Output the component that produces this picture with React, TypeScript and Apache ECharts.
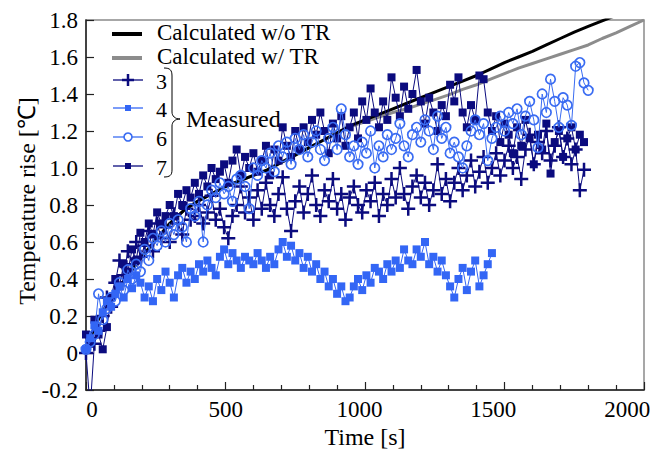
import React, { useEffect, useRef } from "react";
import * as echarts from "echarts";

// ---- data ----
const STEP = 15; // sampling interval of the measured series [s]

const measured3 = [
  0.0, -0.3, 0.05, 0.12, 0.2, 0.3, 0.25, 0.38, 0.5, 0.42, 0.55, 0.48, 0.6, 0.52, 0.58, 0.66, 0.55, 0.7, 0.62, 0.68,
  0.6, 0.75, 0.7, 0.64, 0.78, 0.72, 0.74, 0.8, 0.7, 0.76, 0.85, 0.72, 0.78, 0.68, 0.62, 0.74, 0.8, 0.9, 0.76, 0.84,
  0.72, 0.88, 0.78, 0.92, 0.8, 0.74, 0.86, 0.95, 0.78, 0.66, 0.82, 0.9, 0.76, 0.86, 0.96, 0.8, 0.74, 0.88, 0.82, 0.94,
  0.78, 0.86, 0.72, 0.84, 0.9, 0.8, 0.76, 0.88, 0.82, 0.92, 0.74, 0.86, 0.8, 0.94, 0.84, 1.0, 0.86, 0.78, 0.9, 0.96,
  0.84, 0.92, 0.8, 0.88, 1.02, 0.86, 0.94, 0.82, 0.92, 1.0, 0.88, 0.96, 1.04, 0.9, 0.98, 1.06, 0.92, 1.0, 1.08, 0.96,
  1.04, 1.12, 1.0, 1.06, 0.94, 1.1, 1.18, 1.02, 1.14, 1.08, 1.2, 1.04, 1.12, 1.22, 1.06, 1.16, 1.02, 1.1, 0.88, 0.99,
];

const measured4 = [
  0.02, 0.08, 0.15, 0.12, 0.22, 0.28, 0.25, 0.32, 0.36, 0.3, 0.4, 0.35, 0.42, 0.38, 0.3, 0.36, 0.28, 0.4, 0.34, 0.44,
  0.38, 0.3, 0.42, 0.46, 0.38, 0.44, 0.4, 0.48, 0.44, 0.5, 0.46, 0.42, 0.52, 0.56, 0.48, 0.54, 0.5, 0.46, 0.52, 0.5,
  0.48, 0.54, 0.5, 0.46, 0.52, 0.48, 0.56, 0.6, 0.52, 0.58, 0.5, 0.54, 0.46, 0.52, 0.44, 0.48, 0.4, 0.44, 0.36, 0.4,
  0.32, 0.36, 0.28, 0.3, 0.36, 0.4, 0.34, 0.42, 0.38, 0.46, 0.44, 0.4, 0.48, 0.44, 0.5, 0.46, 0.56, 0.5, 0.48, 0.56,
  0.52, 0.6, 0.48, 0.52, 0.44, 0.5, 0.42, 0.36, 0.3, 0.4, 0.46, 0.34, 0.44, 0.5, 0.36, 0.42, 0.48, 0.54,
];

const measured6 = [
  0.02, 0.06, 0.1, 0.32, 0.18, 0.24, 0.3, 0.28, 0.38, 0.34, 0.45, 0.4, 0.48, 0.44, 0.56, 0.5, 0.62, 0.58, 0.66, 0.6,
  0.7, 0.64, 0.72, 0.68, 0.6, 0.78, 0.74, 0.82, 0.6, 0.8, 0.88, 0.84, 0.92, 0.86, 0.9, 0.82, 0.94, 0.96, 0.9, 0.78,
  1.0, 0.96, 1.04, 1.0, 1.08, 0.98, 1.12, 1.06, 1.14, 1.02, 1.16, 1.1, 1.18, 1.06, 1.14, 1.2, 1.1, 1.04, 1.16, 1.22,
  1.1, 1.32, 1.18, 1.06, 1.12, 1.02, 1.14, 1.08, 1.2, 1.0, 1.12, 1.06, 1.18, 1.1, 1.16, 1.24, 1.12, 1.06, 1.18, 1.22,
  1.14, 1.26, 1.2, 1.1, 1.28, 1.16, 1.22, 1.08, 1.14, 1.06, 1.0, 1.12, 1.2, 1.26, 1.18, 1.24, 1.04, 1.16, 1.22, 1.28,
  1.2, 1.3, 1.24, 1.32, 1.18, 1.28, 1.36, 1.26, 1.11, 1.4, 1.3, 1.48, 1.36, 1.22, 1.38, 1.34, 1.23, 1.55, 1.57, 1.46,
  1.42,
];

const measured7 = [
  0.1, 0.05, 0.18, 0.1, 0.02, 0.14, 0.3, 0.4, 0.36, 0.48, 0.44, 0.56, 0.5, 0.65, 0.6, 0.7, 0.64, 0.76, 0.7, 0.74,
  0.8, 0.74, 0.86, 0.8, 0.88, 0.84, 0.92, 0.86, 0.96, 0.9, 1.0, 0.94, 0.98, 1.02, 0.92, 1.04, 1.1, 0.96, 1.06, 1.0,
  1.08, 0.98, 1.04, 1.12, 0.96, 1.1, 1.04, 1.22, 1.12, 1.06, 1.2, 1.1, 1.22, 1.14, 1.26, 1.18, 1.3, 1.2, 1.08, 1.24,
  1.16, 1.28, 1.12, 1.22, 1.3, 1.16, 1.36, 1.26, 1.43, 1.3, 1.22, 1.36, 1.26, 1.49, 1.38, 1.28, 1.44, 1.32, 1.4, 1.53,
  1.36, 1.24, 1.38, 1.3, 1.2, 1.34, 1.28, 1.45, 1.36, 1.49, 1.3, 1.22, 1.34, 1.26, 1.5, 1.48, 1.3, 1.2, 1.28, 1.14,
  1.24, 1.18, 1.08, 1.22, 1.12, 1.26, 1.16, 1.02, 1.18, 1.1, 1.24, 0.97, 1.14, 1.2, 1.06, 1.16, 1.22, 1.1, 1.18, 1.14,
];

const calcTime = [
  0, 25, 50, 100, 150, 200, 250, 300, 350, 400, 450, 500, 550, 600, 650, 700, 750, 800, 850, 900, 950, 1000, 1050,
  1100, 1150, 1200, 1250, 1300, 1350, 1400, 1450, 1500, 1550, 1600, 1650, 1700, 1750, 1800, 1850, 1900, 1950, 2000,
];
const calcNoTR = [
  0, 0.12, 0.2, 0.32, 0.42, 0.52, 0.61, 0.7, 0.77, 0.82, 0.86, 0.9, 0.93, 0.96, 0.99, 1.03, 1.07, 1.11, 1.15, 1.19,
  1.23, 1.26, 1.29, 1.32, 1.35, 1.38, 1.41, 1.44, 1.47, 1.5, 1.535, 1.57, 1.6, 1.63, 1.665, 1.7, 1.735, 1.765, 1.795,
  1.825, 1.86, 1.89,
];
const calcTR = [
  0, 0.12, 0.2, 0.32, 0.42, 0.52, 0.61, 0.7, 0.77, 0.82, 0.86, 0.9, 0.93, 0.96, 0.99, 1.03, 1.07, 1.11, 1.15, 1.19,
  1.225, 1.25, 1.275, 1.3, 1.32, 1.345, 1.37, 1.395, 1.425, 1.45, 1.48, 1.51, 1.54, 1.565, 1.59, 1.615, 1.64, 1.665,
  1.7, 1.73, 1.765, 1.8,
];

const xLabelValues = [0, 500, 1000, 1500, 2000];

const NAVY = "#0b0b7e";
const BLUE = "#3366f5";
const CIRCLE_BLUE = "#3a6cf2";
const FONT = "Liberation Serif";

const PLUS = "path://M-1.25,-7H1.25V-1.25H7V1.25H1.25V7H-1.25V1.25H-7V-1.25H-1.25Z";

const toPairs = (vals: number[]) => vals.map((v, i) => [i * STEP, v]);

export default function App() {
  const ref = useRef<HTMLDivElement>(null);

  useEffect(() => {
    if (!ref.current) return;
    echarts.graphic.registerShape(
      "brace",
      echarts.graphic.extendPath(
        "M164,68 C170,68 172,70 172,76 L172,112 C172,116 175,119 180,119 C175,119 172,122 172,126 L172,170 C172,175 170,177 164,177",
        {}
      )
    );
    const chart = echarts.init(ref.current, null, { renderer: "svg" });

    const legendRows = [
      { y: 80, label: "3" },
      { y: 108, label: "4" },
      { y: 137, label: "6" },
      { y: 166, label: "7" },
    ];
    const lx1 = 113;
    const lx2 = 143;
    const mx = 128;
    const textStyle = (text: string, x: number, y: number, size = 23) => ({
      type: "text",
      x,
      y,
      style: {
        text,
        fontFamily: FONT,
        fontSize: size,
        fill: "#000",
        textAlign: "left",
        align: "left",
        textVerticalAlign: "middle",
        verticalAlign: "middle",
      },
    });

    const graphic: any[] = [
      { type: "line", shape: { x1: 112, y1: 34, x2: 142, y2: 34 }, style: { stroke: "#000", lineWidth: 4 } },
      textStyle("Calculated w/o TR", 157, 32, 23),
      { type: "line", shape: { x1: 112, y1: 58, x2: 142, y2: 58 }, style: { stroke: "#8c8c8c", lineWidth: 4 } },
      textStyle("Calculated w/ TR", 157, 56, 23),
    ];
    legendRows.forEach((r, i) => {
      const color = i === 1 ? BLUE : i === 2 ? CIRCLE_BLUE : NAVY;
      graphic.push({ type: "line", shape: { x1: lx1, y1: r.y, x2: lx2, y2: r.y }, style: { stroke: color, lineWidth: 1.3 } });
      if (i === 0) {
        graphic.push({ type: "line", shape: { x1: mx - 6, y1: r.y, x2: mx + 6, y2: r.y }, style: { stroke: color, lineWidth: 2.5 } });
        graphic.push({ type: "line", shape: { x1: mx, y1: r.y - 6, x2: mx, y2: r.y + 6 }, style: { stroke: color, lineWidth: 2.5 } });
      } else if (i === 2) {
        graphic.push({ type: "circle", shape: { cx: mx, cy: r.y, r: 4 }, style: { fill: "#fff", stroke: color, lineWidth: 1.6 } });
      } else {
        graphic.push({ type: "rect", shape: { x: mx - 3, y: r.y - 3, width: 6, height: 6 }, style: { fill: color } });
      }
      graphic.push(textStyle(r.label, 156, r.y + 1, 22));
    });
    graphic.push({ type: "brace", x: 0, y: 0, scaleX: 1, scaleY: 1, style: { stroke: "#000", fill: "none", lineWidth: 1 } });
    graphic.push(textStyle("Measured", 186, 119, 24));
    graphic.push({
      type: "text",
      x: 27,
      y: 201,
      rotation: Math.PI / 2,
      style: {
        text: "Temperature rise [\u2103]",
        fontFamily: FONT,
        fontSize: 24,
        fill: "#000",
        textAlign: "center",
        align: "center",
        textVerticalAlign: "middle",
        verticalAlign: "middle",
      },
    });
    graphic.push({
      type: "text",
      x: 365,
      y: 437,
      style: {
        text: "Time [s]",
        fontFamily: FONT,
        fontSize: 24,
        fill: "#000",
        textAlign: "center",
        align: "center",
        textVerticalAlign: "middle",
        verticalAlign: "middle",
      },
    });

    const lineBase = { type: "line", xAxisIndex: 0, yAxisIndex: 0, clip: true, silent: true };

    chart.setOption({
      animation: false,
      backgroundColor: "#fff",
      grid: {
        left: 86,
        top: 20,
        right: 11,
        bottom: 67,
        show: true,
        borderColor: "#8a8a8a",
        borderWidth: 1.5,
        backgroundColor: "transparent",
        containLabel: false,
        outerBoundsMode: "none",
      },
      xAxis: [
        {
          type: "value",
          min: 0,
          max: 2000,
          interval: 500,
          position: "bottom",
          axisLine: { show: true, onZero: false, lineStyle: { color: "#222", width: 1.5 } },
          axisTick: { show: true, inside: true, length: 8, lineStyle: { color: "#222", width: 1.2 } },
          minorTick: { show: true, splitNumber: 5, length: 5, lineStyle: { color: "#222", width: 1.2 } },
          axisLabel: { show: false },
          splitLine: { show: false },
          minorSplitLine: { show: false },
        },
        {
          type: "value",
          min: -22.4,
          max: 2063,
          position: "bottom",
          offset: 0,
          axisLine: { show: false },
          axisTick: { show: false },
          splitLine: { show: false },
          axisLabel: {
            show: true,
            customValues: xLabelValues,
            margin: 8,
            fontFamily: FONT,
            fontSize: 23,
            color: "#000",
            formatter: (v: number) => String(Math.round(v)),
          },
        },
      ],
      yAxis: {
        type: "value",
        min: -0.2,
        max: 1.8,
        interval: 0.2,
        axisLine: { show: true, onZero: false, lineStyle: { color: "#222", width: 1.5 } },
        axisTick: { show: true, inside: true, length: 8, lineStyle: { color: "#222", width: 1.2 } },
        splitLine: { show: false },
        axisLabel: {
          margin: 8,
          fontFamily: FONT,
          fontSize: 23,
          color: "#000",
          formatter: (v: number) => (Math.abs(v) < 1e-9 ? "0" : v.toFixed(1)),
        },
      },
      graphic,
      series: [
        {
          ...lineBase,
          name: "Calculated w/ TR",
          data: calcTime.map((t, i) => [t, calcTR[i]]),
          showSymbol: false,
          lineStyle: { color: "#8c8c8c", width: 3 },
          z: 2,
        },
        {
          ...lineBase,
          name: "Calculated w/o TR",
          data: calcTime.map((t, i) => [t, calcNoTR[i]]),
          showSymbol: false,
          lineStyle: { color: "#000", width: 3 },
          z: 2,
        },
        {
          ...lineBase,
          name: "3",
          data: toPairs(measured3),
          symbol: PLUS,
          symbolSize: 14,
          itemStyle: { color: NAVY, borderWidth: 0 },
          lineStyle: { color: NAVY, width: 1 },
          z: 3,
        },
        {
          ...lineBase,
          name: "7",
          data: toPairs(measured7),
          symbol: "rect",
          symbolSize: 8,
          itemStyle: { color: NAVY, borderWidth: 0 },
          lineStyle: { color: NAVY, width: 1 },
          z: 4,
        },
        {
          ...lineBase,
          name: "6",
          data: toPairs(measured6),
          symbol: "circle",
          symbolSize: 9.5,
          itemStyle: { color: "rgba(255,255,255,0)", borderColor: CIRCLE_BLUE, borderWidth: 1.7 },
          lineStyle: { color: CIRCLE_BLUE, width: 1 },
          z: 5,
        },
        {
          ...lineBase,
          name: "4",
          data: toPairs(measured4),
          symbol: "rect",
          symbolSize: 8,
          itemStyle: { color: BLUE, borderWidth: 0 },
          lineStyle: { color: BLUE, width: 1 },
          z: 6,
        },
      ],
    });

    return () => chart.dispose();
  }, []);

  return (
    <div
      ref={ref}
      style={{ position: "fixed", left: 0, top: 0, width: 655, height: 457, background: "#fff" }}
    />
  );
}
